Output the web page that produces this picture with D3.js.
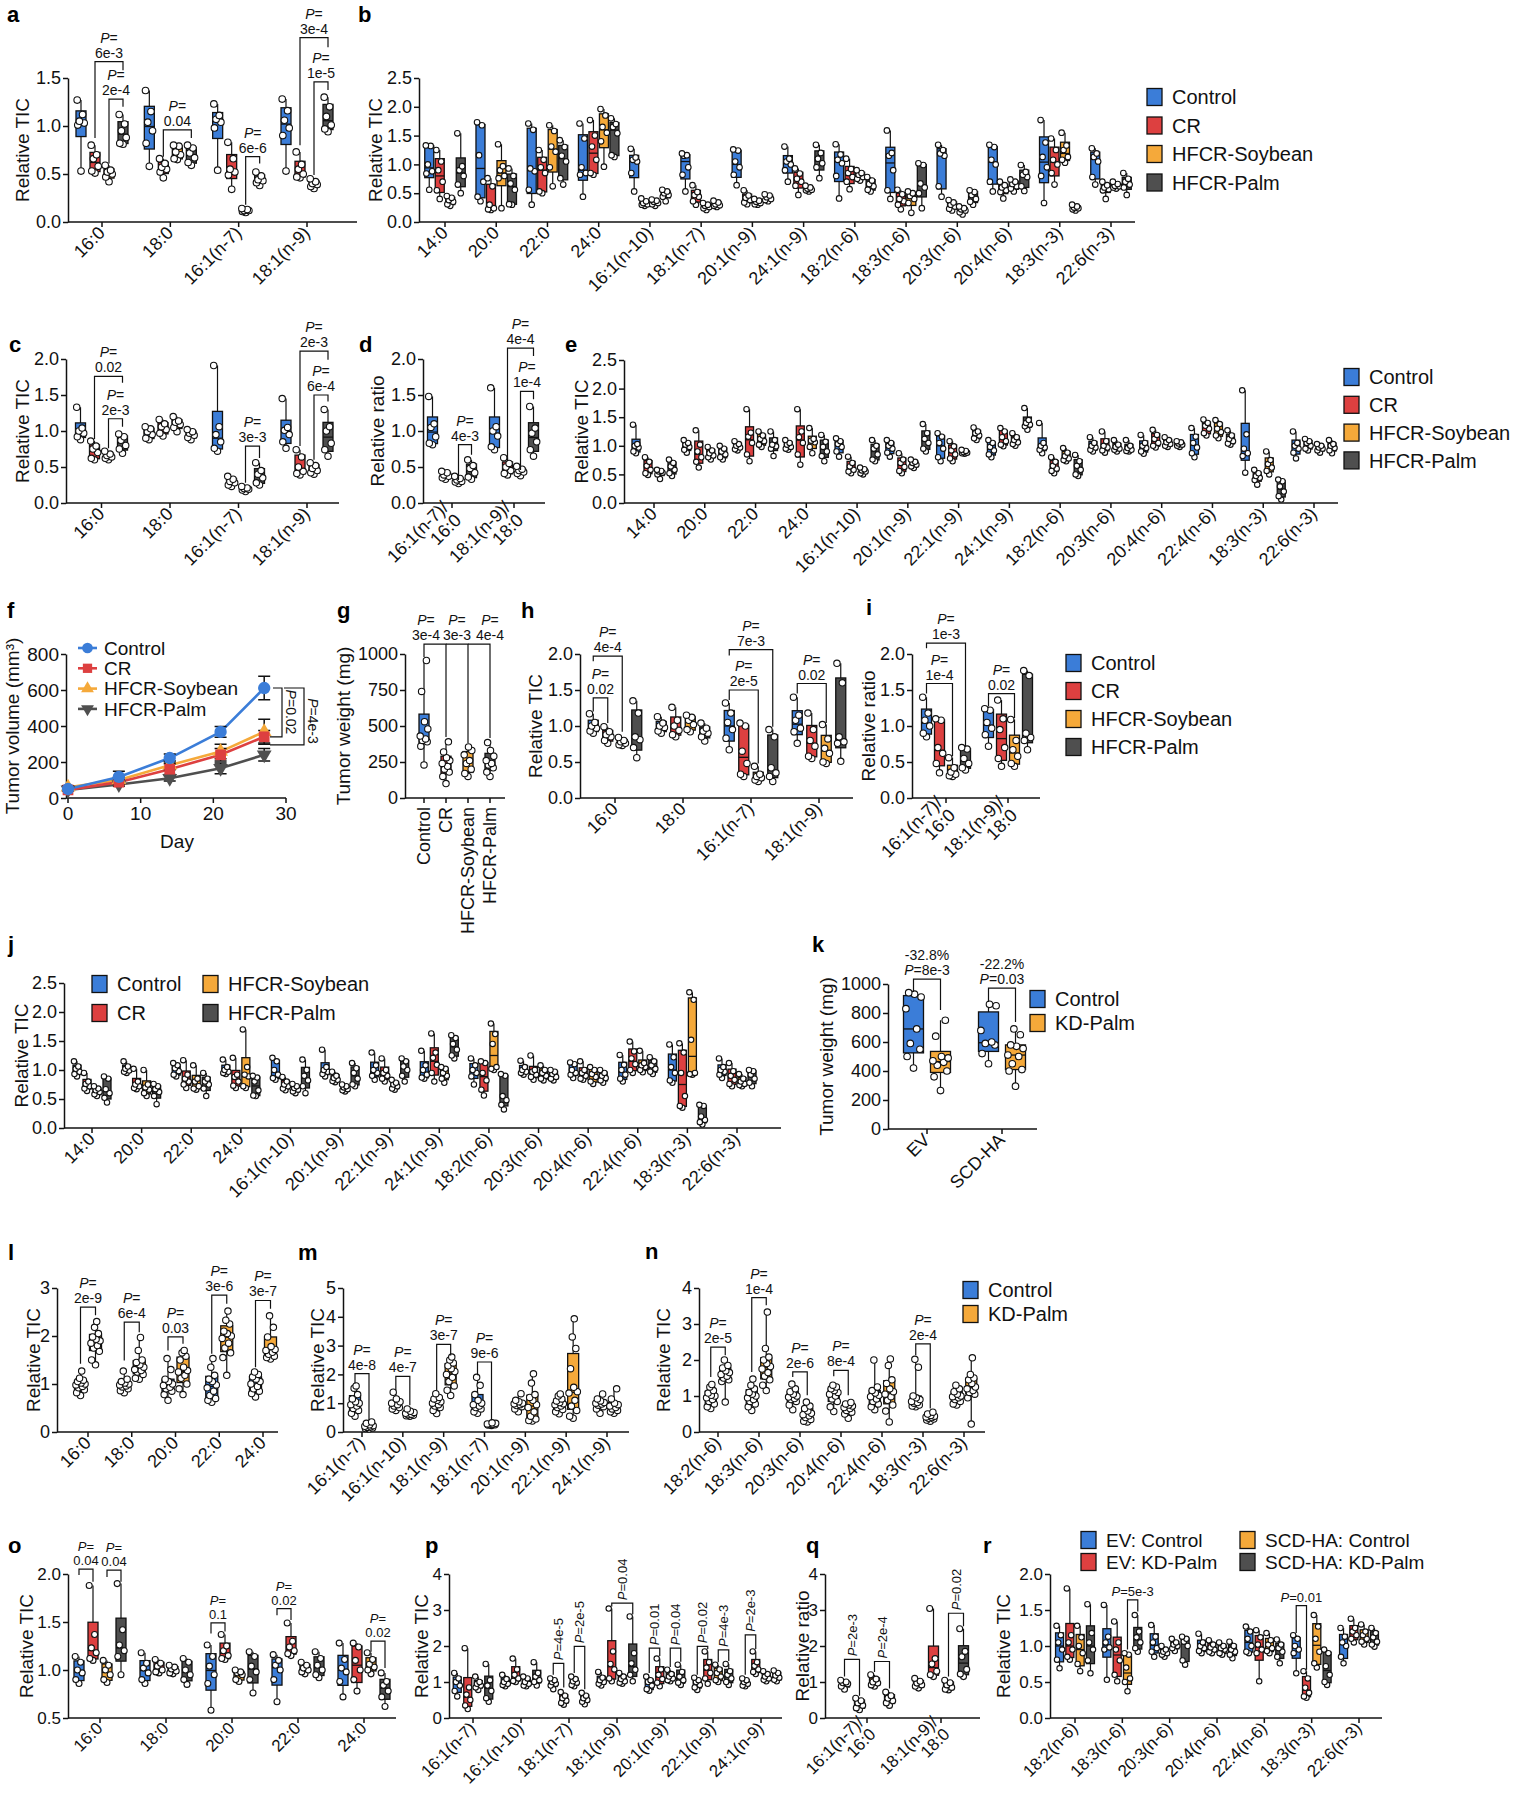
<!DOCTYPE html>
<html><head><meta charset="utf-8">
<script src="https://cdn.jsdelivr.net/npm/d3@7"></script>
<style>body{margin:0;background:#fff;}</style>
</head><body>
<script>
// ---------------- DATA ----------------
const C4 = ["#3b7dd8", "#dd4040", "#f5a93a", "#4f4f4f"];
const C2 = ["#3b7dd8", "#f5a93a"];
const series4Names = ["Control", "CR", "HFCR-Soybean", "HFCR-Palm"];
const series2Names = ["Control", "KD-Palm"];
const seriesRNames = ["EV: Control", "EV: KD-Palm", "SCD-HA: Control", "SCD-HA: KD-Palm"];

// a
const aGroups = ["16:0","18:0","16:1(n-7)","18:1(n-9)"];
const aControl = [[1.27,1.12,1.05,1.03,1.01,0.53],[1.37,1.15,1.04,0.95,0.82,0.58],[1.23,1.11,1.07,1.04,0.98,0.54],[1.28,1.16,1.06,0.98,0.90,0.53]];
const aCR = [[0.80,0.70,0.66,0.58,0.53,0.51],[0.66,0.61,0.57,0.55,0.52,0.46],[0.83,0.66,0.55,0.52,0.49,0.34],[0.73,0.60,0.55,0.50,0.47,0.46]];
const aSoy = [[0.59,0.54,0.52,0.50,0.47,0.42],[0.80,0.79,0.73,0.70,0.66,0.65],[0.14,0.13,0.12,0.12,0.11,0.10],[0.45,0.42,0.40,0.39,0.37,0.35]];
const aPalm = [[1.12,1.02,0.95,0.88,0.82,0.81],[0.80,0.77,0.72,0.67,0.62,0.59],[0.52,0.48,0.44,0.43,0.41,0.38],[1.30,1.20,1.10,1.01,0.97,0.94]];
const aBr = [[0,1,3,1.67,0.875,1.58,"P=","6e-3"],[0,2,3,1.28,0.61,1.20,"P=","2e-4"],[1,1,3,0.96,0.68,0.875,"P=","0.04"],
  [2,2,3,0.68,0.18,0.61,"P=","6e-6"],[3,1,3,1.92,0.80,1.82,"P=","3e-4"],[3,2,3,1.46,0.49,1.375,"P=","1e-5"]];

// b
const bGroups = ["14:0","20:0","22:0","24:0","16:1(n-10)","18:1(n-7)","20:1(n-9)","24:1(n-9)","18:2(n-6)","18:3(n-6)","20:3(n-6)","20:4(n-6)","18:3(n-3)","22:6(n-3)"];
const bControl = [[1.33,1.32,1.00,0.88,0.84,0.56],[1.73,1.68,1.16,0.70,0.44,0.36],[1.71,1.60,0.93,0.88,0.56,0.30],[1.71,1.45,0.95,0.85,0.82,0.44],
  [1.27,1.12,1.08,1.05,0.85,0.53],[1.19,1.16,1.15,0.95,0.82,0.53],[1.26,1.24,1.05,0.95,0.82,0.64],[1.31,1.10,1.05,1.00,0.90,0.70],
  [1.35,1.17,1.08,1.02,0.80,0.41],[1.59,1.20,1.15,0.90,0.55,0.40],[1.34,1.25,1.19,1.15,0.62,0.44],[1.34,1.30,1.08,1.00,0.70,0.53],
  [1.77,1.38,1.13,0.95,0.80,0.33],[1.28,1.19,1.13,1.05,0.78,0.65]];
const bCR = [[1.25,1.05,0.90,0.70,0.55,0.40],[0.76,0.62,0.30,0.24,0.22,0.21],[1.25,1.08,0.95,0.85,0.53,0.50],[1.77,1.50,1.31,1.08,0.85,0.82],
  [0.41,0.36,0.33,0.31,0.30,0.28],[0.64,0.52,0.47,0.44,0.36,0.30],[0.55,0.46,0.42,0.38,0.34,0.31],[0.93,0.84,0.75,0.70,0.63,0.47],
  [1.10,0.92,0.85,0.78,0.70,0.57],[0.56,0.48,0.40,0.36,0.30,0.22],[0.38,0.34,0.30,0.27,0.23,0.20],[0.70,0.64,0.60,0.55,0.52,0.41],
  [1.45,1.25,1.08,1.00,0.85,0.65],[0.70,0.64,0.60,0.57,0.55,0.40]];
const bSoy = [[0.45,0.42,0.38,0.35,0.31,0.28],[1.35,0.97,0.90,0.80,0.76,0.24],[1.68,1.58,1.31,1.22,0.95,0.62],[1.96,1.85,1.65,1.55,1.40,0.96],
  [0.39,0.37,0.35,0.33,0.31,0.28],[0.33,0.30,0.28,0.26,0.24,0.21],[0.40,0.37,0.35,0.33,0.31,0.30],[0.63,0.60,0.58,0.56,0.55,0.53],
  [0.90,0.85,0.82,0.78,0.75,0.72],[0.53,0.50,0.45,0.40,0.33,0.16],[0.27,0.24,0.22,0.20,0.17,0.13],[0.74,0.70,0.66,0.62,0.58,0.53],
  [1.55,1.33,1.25,1.13,1.08,1.03],[0.70,0.66,0.63,0.62,0.60,0.58]];
const bPalm = [[1.54,0.97,0.90,0.80,0.65,0.50],[0.93,0.80,0.67,0.56,0.31,0.30],[1.42,1.30,1.15,1.05,0.76,0.65],[1.80,1.70,1.65,1.54,1.16,1.13],
  [0.56,0.53,0.50,0.47,0.44,0.36],[0.37,0.34,0.31,0.29,0.28,0.26],[0.48,0.46,0.43,0.40,0.38,0.36],[1.34,1.20,1.10,1.02,0.95,0.76],
  [0.78,0.72,0.66,0.62,0.56,0.53],[1.02,0.99,0.67,0.60,0.50,0.24],[0.55,0.52,0.47,0.40,0.35,0.30],[0.99,0.87,0.82,0.78,0.62,0.54],
  [0.30,0.27,0.25,0.24,0.22,0.20],[0.85,0.75,0.70,0.65,0.60,0.47]];

// c
const cGroups = ["16:0","18:0","16:1(n-7)","18:1(n-9)"];
const cControl = [[1.33,1.04,1.00,0.97,0.92,0.88],[1.06,1.03,0.99,0.95,0.90,0.88],[1.91,1.06,0.95,0.85,0.76,0.72],[1.45,1.05,1.01,0.95,0.85,0.76]];
const cCR = [[0.86,0.79,0.75,0.70,0.62,0.60],[1.16,1.10,1.06,1.02,0.97,0.93],[0.37,0.33,0.30,0.28,0.25,0.23],[0.74,0.64,0.50,0.44,0.41,0.39]];
const cSoy = [[0.72,0.68,0.66,0.64,0.62,0.60],[1.20,1.14,1.12,1.09,1.05,0.99],[0.23,0.21,0.20,0.19,0.18,0.16],[0.56,0.52,0.48,0.45,0.42,0.40]];
const cPalm = [[0.96,0.92,0.87,0.80,0.75,0.69],[1.02,0.99,0.97,0.94,0.91,0.88],[0.56,0.45,0.40,0.35,0.28,0.25],[1.30,1.06,1.00,0.83,0.74,0.65]];
const cBr = [[0,1,3,1.76,0.89,1.67,"P=","0.02"],[0,2,3,1.17,0.76,1.06,"P=","2e-3"],[2,2,3,0.79,0.28,0.625,"P=","3e-3"],
  [3,1,3,2.11,0.79,1.99,"P=","2e-3"],[3,2,3,1.50,0.60,1.41,"P=","6e-4"]];

// d
const dGroups = ["16:1(n-7)/\n16:0","18:1(n-9)/\n18:0"];
const dControl = [[1.48,1.10,1.05,0.92,0.83,0.81],[1.60,1.06,1.00,0.93,0.78,0.74]];
const dCR = [[0.44,0.42,0.39,0.37,0.35,0.33],[0.63,0.55,0.50,0.45,0.41,0.39]];
const dSoy = [[0.37,0.34,0.32,0.30,0.29,0.27],[0.51,0.47,0.45,0.43,0.41,0.38]];
const dPalm = [[0.60,0.52,0.48,0.42,0.36,0.33],[1.34,1.04,0.97,0.85,0.74,0.65]];
const dBr = [[0,2,3,0.81,0.32,0.67,"P=","4e-3"],[1,1,3,2.15,0.58,2.04,"P=","4e-4"],[1,2,3,1.55,0.46,1.44,"P=","1e-4"]];

// e
const eGroups = ["14:0","20:0","22:0","24:0","16:1(n-10)","20:1(n-9)","22:1(n-9)","24:1(n-9)","18:2(n-6)","20:3(n-6)","20:4(n-6)","22:4(n-6)","18:3(n-3)","22:6(n-3)"];
const eControl = [[1.37,1.03,1.00,0.97,0.90,0.87],[1.10,1.05,1.02,0.98,0.93,0.88],[1.08,1.03,1.00,0.97,0.94,0.92],[1.10,1.05,1.02,0.98,0.95,0.93],
  [1.13,1.08,1.03,0.98,0.90,0.81],[1.10,1.05,1.00,0.95,0.88,0.81],[1.22,1.16,1.05,0.95,0.80,0.73],[1.10,1.05,0.98,0.92,0.85,0.80],
  [1.40,1.05,1.00,0.97,0.93,0.87],[1.15,1.05,1.00,0.97,0.93,0.90],[1.19,1.05,1.00,0.96,0.90,0.86],[1.31,1.16,1.05,0.97,0.87,0.80],
  [1.97,1.20,0.95,0.87,0.82,0.53],[1.25,1.05,1.00,0.95,0.88,0.78]];
const eCR = [[0.80,0.72,0.65,0.58,0.52,0.49],[1.27,1.02,0.90,0.80,0.72,0.62],[1.64,1.23,1.16,1.05,0.85,0.73],[1.64,1.25,1.15,1.05,0.85,0.67],
  [0.81,0.70,0.64,0.58,0.55,0.52],[0.87,0.76,0.70,0.63,0.56,0.52],[1.08,0.99,0.92,0.85,0.78,0.73],[1.31,1.25,1.15,1.08,1.02,0.99],
  [0.80,0.72,0.65,0.60,0.56,0.52],[1.25,1.08,1.00,0.97,0.92,0.88],[1.28,1.19,1.12,1.05,1.00,0.97],[1.46,1.40,1.35,1.30,1.22,1.18],
  [0.58,0.52,0.47,0.44,0.40,0.32],[1.12,1.08,1.05,1.00,0.95,0.92]];
const eSoy = [[0.58,0.56,0.55,0.53,0.50,0.42],[0.98,0.92,0.87,0.83,0.80,0.76],[1.25,1.18,1.12,1.08,1.02,0.98],[1.31,1.12,1.09,1.06,0.98,0.87],
  [0.62,0.59,0.57,0.55,0.52,0.50],[0.76,0.72,0.70,0.67,0.64,0.61],[0.93,0.91,0.89,0.88,0.87,0.86],[1.22,1.15,1.10,1.06,1.03,1.00],
  [0.96,0.88,0.82,0.78,0.75,0.73],[1.10,1.02,0.98,0.95,0.93,0.90],[1.15,1.10,1.06,1.03,1.00,0.98],[1.45,1.38,1.30,1.24,1.18,1.13],
  [0.90,0.75,0.68,0.62,0.56,0.50],[1.03,1.00,0.97,0.95,0.92,0.88]];
const ePalm = [[0.76,0.70,0.64,0.58,0.52,0.47],[1.00,0.95,0.90,0.85,0.80,0.76],[1.25,1.10,1.02,0.99,0.95,0.82],[1.19,1.07,0.98,0.90,0.82,0.73],
  [1.10,1.00,0.95,0.85,0.76,0.73],[1.38,1.22,1.12,1.05,0.95,0.90],[1.32,1.25,1.22,1.18,1.13,1.10],[1.66,1.45,1.40,1.37,1.34,1.28],
  [0.84,0.73,0.65,0.58,0.50,0.47],[1.10,1.00,0.96,0.93,0.91,0.90],[1.08,1.06,1.04,1.02,1.00,0.98],[1.27,1.18,1.12,1.08,1.04,1.02],
  [0.41,0.38,0.29,0.20,0.12,0.06],[1.10,1.03,1.00,0.96,0.92,0.87]];

// f
const fDays = [0, 7, 14, 21, 27];
const fControl = [50, 117, 222, 367, 611], fControlErr = [12, 32, 22, 30, 65];
const fCR = [45, 88, 160, 240, 340], fCRErr = [8, 15, 30, 35, 35];
const fSoy = [60, 100, 182, 258, 368], fSoyErr = [8, 15, 25, 40, 70];
const fPalm = [45, 75, 110, 165, 240], fPalmErr = [8, 10, 15, 30, 35];

// g
const gLabels = ["Control","CR","HFCR-Soybean","HFCR-Palm"];
const gControl = [955,740,530,480,430,410,400,390,360,230];
const gCR = [390,320,280,260,240,220,200,180,150,100];
const gSoy = [355,330,300,260,240,200,170,150];
const gPalm = [385,330,290,260,240,230,210,180,150];

// h
const hGroups = ["16:0","18:0","16:1(n-7)","18:1(n-9)"];
const hControl = [[1.17,1.05,1.00,0.97,0.93,0.90],[1.13,1.04,1.00,0.98,0.93,0.90],[1.32,1.18,1.05,0.95,0.83,0.67],[1.40,1.15,1.08,0.97,0.92,0.76]];
const hCR = [[0.99,0.92,0.88,0.85,0.80,0.76],[1.26,1.08,1.00,0.94,0.88,0.85],[1.04,1.00,0.65,0.48,0.33,0.30],[1.18,0.95,0.80,0.72,0.58,0.55]];
const hSoy = [[0.84,0.80,0.78,0.76,0.74,0.73],[1.15,1.12,1.08,1.02,0.95,0.92],[0.44,0.33,0.30,0.28,0.25,0.23],[1.02,0.82,0.69,0.62,0.50,0.48]];
const hPalm = [[1.35,1.18,0.85,0.81,0.70,0.56],[1.04,0.97,0.93,0.90,0.85,0.79],[0.95,0.85,0.42,0.35,0.30,0.23],[1.87,1.60,0.85,0.78,0.76,0.51]];
const hBr = [[0,0,2,1.97,1.90,0.92,"P=","4e-4"],[0,0,1,1.39,1.20,1.04,"P=","0.02"],[2,0,3,2.06,1.98,0.99,"P=","7e-3"],
  [2,0,2,1.50,1.36,0.48,"P=","2e-5"],[3,0,2,1.59,1.45,1.04,"P=","0.02"]];

// i
const iGroups = ["16:1(n-7)/\n16:0","18:1(n-9)/\n18:0"];
const iControl = [[1.40,1.18,1.08,1.00,0.90,0.85],[1.24,1.22,1.05,0.97,0.88,0.72]];
const iCR = [[1.10,1.08,0.70,0.62,0.48,0.35],[1.36,1.10,0.95,0.70,0.55,0.44]];
const iSoy = [[0.56,0.42,0.36,0.33,0.31,0.30],[1.09,0.80,0.67,0.58,0.48,0.44]];
const iPalm = [[0.70,0.68,0.55,0.48,0.42,0.39],[1.77,1.70,0.90,0.84,0.80,0.67]];
const iBr = [[0,0,3,2.15,2.08,0.72,"P=","1e-3"],[0,0,2,1.59,1.45,0.58,"P=","1e-4"],[1,0,2,1.45,1.27,1.11,"P=","0.02"]];

// j
const jGroups = ["14:0","20:0","22:0","24:0","16:1(n-10)","20:1(n-9)","22:1(n-9)","24:1(n-9)","18:2(n-6)","20:3(n-6)","20:4(n-6)","22:4(n-6)","18:3(n-3)","22:6(n-3)"];
const jControl = [[1.15,1.06,1.02,0.97,0.93,0.89],[1.15,1.06,1.02,0.99,0.97,0.95],[1.12,1.08,1.03,0.98,0.92,0.89],[1.18,1.05,1.00,0.97,0.95,0.93],
  [1.21,1.15,1.00,0.92,0.86,0.83],[1.35,1.05,1.00,0.97,0.93,0.89],[1.30,1.08,1.00,0.95,0.90,0.83],[1.33,1.08,1.00,0.92,0.87,0.85],
  [1.20,1.08,1.00,0.95,0.89,0.75],[1.16,1.05,1.00,0.97,0.95,0.92],[1.13,1.10,1.00,0.95,0.92,0.86],[1.26,1.09,1.00,0.92,0.85,0.80],
  [1.44,1.22,1.05,0.95,0.82,0.78],[1.20,1.05,1.00,0.97,0.92,0.86]];
const jCR = [[0.95,0.80,0.76,0.72,0.68,0.64],[1.02,0.80,0.75,0.72,0.69,0.67],[1.17,0.92,0.85,0.80,0.75,0.69],[1.21,0.92,0.88,0.80,0.73,0.69],
  [0.88,0.80,0.75,0.72,0.68,0.65],[0.97,0.90,0.86,0.83,0.81,0.79],[1.20,1.00,0.95,0.90,0.85,0.80],[1.63,1.30,1.21,1.09,0.95,0.80],
  [1.15,1.12,0.95,0.82,0.66,0.56],[1.25,1.00,0.97,0.92,0.88,0.83],[1.15,1.00,0.95,0.90,0.85,0.83],[1.49,1.32,1.20,1.10,1.00,0.95],
  [1.46,1.30,0.95,0.55,0.38,0.35],[1.12,0.98,0.90,0.83,0.76,0.72]];
const jSoy = [[0.72,0.68,0.65,0.62,0.58,0.55],[1.00,0.75,0.70,0.66,0.60,0.55],[1.08,0.85,0.80,0.72,0.68,0.66],[1.70,1.05,0.92,0.89,0.72,0.69],
  [0.76,0.72,0.69,0.66,0.63,0.60],[0.75,0.72,0.70,0.67,0.65,0.63],[0.83,0.78,0.75,0.72,0.68,0.66],[1.05,1.02,0.95,0.90,0.85,0.78],
  [1.80,1.62,1.45,1.05,1.02,1.00],[1.08,1.00,0.95,0.90,0.85,0.82],[1.05,1.00,0.93,0.88,0.80,0.76],[1.33,1.12,1.08,1.05,1.00,0.96],
  [2.34,2.21,1.52,0.95,0.93,0.92],[0.93,0.85,0.80,0.76,0.74,0.72]];
const jPalm = [[0.89,0.85,0.67,0.60,0.52,0.44],[0.76,0.72,0.67,0.62,0.55,0.41],[0.95,0.85,0.80,0.75,0.68,0.55],[0.90,0.87,0.80,0.65,0.56,0.55],
  [1.18,1.00,0.90,0.82,0.72,0.60],[1.12,1.03,0.95,0.85,0.75,0.72],[1.20,1.15,1.06,1.00,0.90,0.80],[1.60,1.55,1.45,1.35,1.25,1.20],
  [0.93,0.90,0.55,0.48,0.40,0.32],[1.00,0.97,0.93,0.88,0.85,0.82],[1.00,0.95,0.90,0.86,0.82,0.78],[1.22,1.15,1.08,1.02,0.97,0.93],
  [0.40,0.38,0.20,0.14,0.10,0.06],[1.00,0.98,0.92,0.85,0.78,0.72]];

// k
const kGroups = ["EV","SCD-HA"];
const kControl = [[940,930,910,830,690,590,550,500,420],[860,850,680,600,590,580,520,450]];
const kKD = [[750,640,500,490,470,460,440,400,360,265],[690,650,580,570,555,510,500,450,410,400,295]];
const kBr = [[0,0,1,1034,945,821,"-32.8%","P=8e-3"],[1,0,1,972,876,738,"-22.2%","P=0.03"]];

// l
const lGroups = ["16:0","18:0","20:0","22:0","24:0"];
const lControl = [[1.27,1.12,1.08,1.05,1.02,1.00,0.98,0.95,0.92,0.88,0.82,0.76],[1.27,1.10,1.05,1.02,1.00,0.98,0.96,0.94,0.90,0.86,0.82],
  [1.53,1.30,1.10,1.05,1.00,0.97,0.93,0.90,0.85,0.78,0.66],[1.53,1.35,1.18,1.10,1.05,0.98,0.92,0.85,0.76,0.70,0.66,0.62],
  [1.25,1.20,1.15,1.10,1.05,1.00,0.95,0.90,0.85,0.80,0.73]];
const lKD = [[2.30,2.18,2.05,1.98,1.93,1.90,1.85,1.80,1.75,1.68,1.50,1.40],[1.97,1.70,1.50,1.45,1.40,1.35,1.30,1.28,1.25,1.20,1.12,1.10],
  [1.70,1.65,1.58,1.50,1.35,1.28,1.25,1.18,1.12,1.00,0.90,0.78],[2.52,2.33,2.25,2.10,2.05,2.00,1.95,1.85,1.75,1.65,1.55,1.18],
  [2.42,2.18,1.98,1.78,1.72,1.70,1.66,1.62,1.58,1.55,1.52]];
const lBr = [[0,0,1,2.60,1.42,2.43,"P=","2e-9"],[1,0,1,2.29,1.49,2.08,"P=","6e-4"],[2,0,1,1.98,1.70,1.84,"P=","0.03"],
  [3,0,1,2.85,1.63,2.67,"P=","3e-6"],[4,0,1,2.74,1.35,2.57,"P=","3e-7"]];

// m
const mGroups = ["16:1(n-7)","16:1(n-10)","18:1(n-9)","18:1(n-7)","20:1(n-9)","22:1(n-9)","24:1(n-9)"];
const mControl = [[1.60,1.52,1.30,1.15,1.05,1.00,0.95,0.90,0.82,0.75,0.65,0.55],[1.38,1.15,1.05,1.00,0.95,0.90,0.85,0.80,0.75],
  [1.33,1.20,1.15,1.10,1.05,1.00,0.95,0.90,0.85,0.75,0.64],[1.90,1.62,1.30,1.10,1.00,0.95,0.90,0.85,0.80,0.70,0.65],
  [1.33,1.10,1.05,1.00,0.98,0.95,0.92,0.88,0.80,0.70],[1.32,1.25,1.15,1.08,1.02,0.98,0.95,0.90,0.85,0.78,0.70,0.63],
  [1.32,1.15,1.08,1.02,1.00,0.97,0.93,0.88,0.80,0.65]];
const mKD = [[0.35,0.30,0.25,0.22,0.20,0.18,0.16,0.14,0.12,0.10],[0.80,0.72,0.68,0.65,0.62,0.60,0.58,0.56,0.55],
  [2.60,2.50,2.40,2.30,2.20,2.10,2.00,1.90,1.75,1.60,1.45,1.27],[0.32,0.30,0.28,0.27,0.26,0.25,0.24,0.23],
  [2.02,1.70,1.30,1.20,1.10,0.95,0.85,0.70,0.55,0.45,0.40,0.38],[3.93,3.30,2.90,2.20,1.55,1.40,1.35,1.10,0.90,0.75,0.55,0.48],
  [1.50,1.15,1.00,0.95,0.90,0.85,0.80,0.75,0.70,0.65]];
const mBr = [[0,0,1,2.03,1.68,0.41,"P=","4e-8"],[1,0,1,1.93,1.45,0.93,"P=","4e-7"],[2,0,1,3.04,1.45,2.66,"P=","3e-7"],[3,0,1,2.43,1.97,0.41,"P=","9e-6"]];

// n
const nGroups = ["18:2(n-6)","18:3(n-6)","20:3(n-6)","20:4(n-6)","22:4(n-6)","18:3(n-3)","22:6(n-3)"];
const nControl = [[1.32,1.25,1.15,1.08,1.02,1.00,0.95,0.90,0.85,0.78,0.70,0.65],[1.47,1.30,1.20,1.10,1.05,1.00,0.95,0.90,0.85,0.78,0.70,0.60],
  [1.33,1.20,1.12,1.05,1.00,0.97,0.93,0.90,0.85,0.75,0.62],[1.30,1.25,1.20,1.15,1.10,1.05,1.00,0.92,0.85,0.70,0.57],
  [2.00,1.25,1.15,1.08,1.02,0.98,0.92,0.85,0.78,0.70,0.62],[2.02,1.80,1.00,0.95,0.90,0.85,0.82,0.80,0.75,0.72,0.70],
  [1.30,1.20,1.12,1.05,1.00,0.98,0.95,0.90,0.85,0.78,0.75]];
const nKD = [[2.00,1.85,1.78,1.70,1.65,1.60,1.55,1.50,1.45,1.40,0.83],[3.33,2.32,2.08,2.00,1.90,1.82,1.75,1.65,1.55,1.45,1.30,1.15],
  [0.83,0.72,0.65,0.58,0.52,0.48,0.45,0.40,0.35,0.30,0.28],[0.82,0.78,0.75,0.72,0.68,0.65,0.60,0.55,0.50,0.38],
  [2.03,1.85,1.45,1.35,1.20,1.12,1.05,0.98,0.88,0.75,0.58,0.28],[0.55,0.50,0.46,0.44,0.42,0.40,0.38,0.36,0.33,0.30],
  [2.06,1.60,1.50,1.45,1.35,1.25,1.20,1.15,1.10,1.05,0.95,0.22]];
const nBr = [[0,0,1,2.36,1.53,2.13,"P=","2e-5"],[1,0,1,3.73,1.67,3.52,"P=","1e-4"],[2,0,1,1.67,1.53,1.02,"P=","2e-6"],
  [3,0,1,1.71,1.55,1.02,"P=","8e-4"],[5,0,1,2.45,2.13,0.65,"P=","2e-4"]];

// o
const oGroups = ["16:0","18:0","20:0","22:0","24:0"];
const oEVCtrl = [[1.14,1.08,1.00,0.97,0.90,0.86],[1.18,1.07,1.02,0.97,0.90,0.86],[1.26,1.14,1.04,0.95,0.86,0.58],[1.16,1.10,1.05,1.00,0.90,0.67],[1.28,1.11,1.02,0.98,0.88,0.72]];
const oEVKD = [[1.88,1.37,1.23,1.18,1.12,1.10],[1.11,1.07,1.04,1.00,0.98,0.97],[1.37,1.25,1.20,1.15,1.12,1.11],[1.49,1.30,1.24,1.20,1.17,1.15],[1.28,1.24,1.10,1.00,0.90,0.78]];
const oSCDCtrl = [[1.10,1.05,1.00,0.95,0.90,0.87],[1.05,1.03,1.01,0.99,0.97,0.96],[1.00,0.98,0.97,0.95,0.90,0.88],[1.08,1.05,1.02,1.00,0.98,0.96],[1.18,1.11,1.06,1.03,1.00,0.96]];
const oSCDKD = [[1.90,1.42,1.26,1.20,1.14,0.95],[1.12,1.08,1.00,0.95,0.90,0.85],[1.19,1.14,1.04,0.98,0.90,0.76],[1.19,1.12,1.05,1.00,0.95,0.92],[0.97,0.88,0.84,0.78,0.72,0.62]];
const oBr = [[0,0,1,2.05,1.99,1.92,"P=","0.04"],[0,2,3,2.04,1.97,1.92,"P=","0.04"],[2,0,1,1.49,1.38,1.40,"P=","0.1"],
  [3,0,1,1.64,1.57,1.52,"P=","0.02"],[4,2,3,1.30,1.19,1.02,"P=","0.02"]];

// p
const pGroups = ["16:1(n-7)","16:1(n-10)","18:1(n-7)","18:1(n-9)","20:1(n-9)","22:1(n-9)","24:1(n-9)"];
const pEVCtrl = [[1.25,1.10,1.00,0.90,0.75,0.60],[1.20,1.08,1.00,0.95,0.92,0.88],[1.10,1.05,1.00,0.95,0.90,0.80],[1.28,1.12,1.05,1.00,0.95,0.90],[1.15,1.05,1.00,0.90,0.80,0.76],[1.12,1.05,1.00,0.92,0.85,0.78],[1.10,1.05,1.00,0.95,0.90,0.88]];
const pEVKD = [[1.94,0.85,0.65,0.50,0.35,0.25],[1.65,1.35,1.20,1.10,1.03,1.00],[0.72,0.62,0.55,0.48,0.42,0.37],[3.04,1.85,1.50,1.35,1.10,1.02],[1.65,1.35,1.20,1.08,0.98,0.88],[1.85,1.55,1.40,1.25,1.10,0.95],[1.85,1.55,1.45,1.35,1.28,1.22]];
const pSCDCtrl = [[1.15,1.00,0.95,0.90,0.85,0.78],[1.15,1.10,1.00,0.95,0.90,0.88],[1.15,1.08,1.02,0.98,0.92,0.88],[1.25,1.15,1.08,1.02,0.98,0.95],[1.34,1.22,1.15,1.10,1.05,1.02],[1.48,1.35,1.25,1.15,1.05,1.00],[1.30,1.22,1.15,1.10,1.06,1.02]];
const pSCDKD = [[1.50,1.05,0.90,0.75,0.55,0.45],[1.55,1.25,1.15,1.05,1.00,0.90],[0.70,0.62,0.55,0.50,0.45,0.38],[2.82,1.80,1.52,1.34,1.20,1.02],[1.48,1.28,1.15,1.05,0.98,0.92],[1.50,1.30,1.20,1.10,1.00,0.92],[1.32,1.25,1.18,1.12,1.06,1.02]];
const pBr = [[2,0,1,1.52,1.20,0.85,"P=4e-5"],[2,2,3,1.99,1.25,0.80,"P=2e-5"],[3,1,3,3.19,3.10,2.88,"P=0.04"],
  [4,0,1,1.94,1.25,1.72,"P=0.01"],[4,2,3,1.94,1.42,1.56,"P=0.04"],[5,0,1,1.99,1.20,1.92,"P=0.02"],
  [5,2,3,1.89,1.55,1.58,"P=4e-3"],[6,0,1,2.31,1.20,1.92,"P=2e-3"]];

// q
const qGroups = ["16:1(n-7)/\n16:0","18:1(n-9)/\n18:0"];
const qEVCtrl = [[1.05,1.00,0.98,0.95,0.88,0.80],[1.10,1.02,0.97,0.92,0.88,0.83]];
const qEVKD = [[0.55,0.48,0.42,0.35,0.28,0.23],[3.04,1.65,1.50,1.30,1.20,1.15]];
const qSCDCtrl = [[1.20,1.08,1.00,0.97,0.92,0.88],[1.05,0.98,0.92,0.85,0.80,0.78]];
const qSCDKD = [[0.72,0.62,0.55,0.48,0.42,0.35],[2.48,1.85,1.70,1.35,1.22,1.15]];
const qBr = [[0,0,1,1.63,1.15,0.62,"P=2e-3"],[0,2,3,1.57,1.28,0.82,"P=2e-4"],[1,2,3,2.91,1.15,2.55,"P=0.02"]];

// r
const rGroups = ["18:2(n-6)","18:3(n-6)","20:3(n-6)","20:4(n-6)","22:4(n-6)","18:3(n-3)","22:6(n-3)"];
const rEVCtrl = [[1.28,1.15,1.05,0.95,0.81,0.69],[1.57,1.13,1.05,0.98,0.95,0.53],[1.29,1.13,1.05,0.97,0.92,0.85],[1.17,1.05,1.00,0.97,0.93,0.90],[1.27,1.20,1.10,1.00,0.92,0.90],[1.15,1.10,1.00,0.95,0.90,0.62],[1.25,1.13,1.05,1.00,0.85,0.76]];
const rEVKD = [[1.80,1.15,1.05,0.95,0.85,0.81],[1.34,1.05,0.95,0.80,0.60,0.51],[1.00,0.95,0.92,0.90,0.88,0.85],[1.08,1.02,0.98,0.95,0.92,0.90],[1.22,1.12,1.02,0.95,0.90,0.51],[0.65,0.55,0.42,0.35,0.30,0.28],[1.38,1.25,1.20,1.15,1.10,1.05]];
const rSCDCtrl = [[1.28,1.12,1.00,0.90,0.75,0.65],[0.90,0.88,0.70,0.55,0.50,0.37],[1.10,1.05,1.02,1.00,0.97,0.93],[1.05,1.00,0.97,0.95,0.90,0.88],[1.18,1.08,1.02,0.97,0.93,0.90],[1.43,1.27,1.10,0.92,0.76,0.70],[1.30,1.20,1.15,1.10,1.06,1.02]];
const rSCDKD = [[1.58,1.18,1.05,0.95,0.80,0.62],[1.43,1.20,1.12,1.05,0.97,0.92],[1.13,1.10,1.06,1.00,0.80,0.74],[1.06,1.00,0.95,0.92,0.88,0.83],[1.09,1.02,0.97,0.92,0.85,0.76],[0.95,0.90,0.72,0.60,0.50,0.46],[1.25,1.18,1.12,1.06,1.02,0.99]];
const rBr = [[1,2,3,1.64,0.95,1.48,"P=5e-3"],[5,0,1,1.56,1.18,0.67,"P=0.01"]];

// ---------------- DRAWING ----------------
const FONT = '"Liberation Sans", Arial, Helvetica, sans-serif';
const INK = "#111";
const svg = d3.select("body").append("svg").attr("width", 1513).attr("height", 1800)
  .attr("font-family", FONT).attr("fill", INK);
const f1 = d3.format(".1f"), fd = d3.format("d");

function quant(s, p) {
  const n = s.length;
  const pos = (n + 1) * p;
  if (pos <= 1) return s[0];
  if (pos >= n) return s[n - 1];
  const lo = Math.floor(pos), fr = pos - lo;
  return s[lo - 1] + fr * (s[lo] - s[lo - 1]);
}
function rich(sel, str) {
  if (str.startsWith("P=")) {
    sel.append("tspan").attr("font-style", "italic").text("P");
    sel.append("tspan").text(str.slice(1));
  } else sel.append("tspan").text(str);
}
function plabel(t, x, y) {
  svg.append("text").attr("x", x).attr("y", y).attr("font-size", 22).attr("font-weight", "bold").attr("fill", "#000").text(t);
}
function ytitle(t, x, yc, fs) {
  svg.append("text").attr("transform", `translate(${x},${yc}) rotate(-90)`).attr("text-anchor", "middle")
    .attr("dy", "0.35em").attr("font-size", fs).text(t);
}
function legendItem(x, yc, col, label, fs) {
  svg.append("rect").attr("x", x).attr("y", yc - 8.5).attr("width", 15).attr("height", 17)
    .attr("fill", col).attr("stroke", INK).attr("stroke-width", 1.3);
  svg.append("text").attr("x", x + 25).attr("y", yc).attr("dy", "0.36em").attr("font-size", fs).text(label);
}
function styleAxis(sel, fs) {
  sel.attr("font-size", fs).attr("font-family", FONT).attr("color", INK);
  sel.select(".domain").attr("stroke-width", 1.5);
  sel.selectAll(".tick line").attr("stroke-width", 1.5);
}

const jit = [0, -0.32, 0.32, -0.16, 0.16, -0.38, 0.38, 0.05, -0.24, 0.24, -0.08, 0.1];

function boxPanel(cfg) {
  const fs = cfg.fs || 18;
  const pfs = cfg.pfs || 14;
  const g = svg.append("g");
  const y = d3.scaleLinear().domain(cfg.yDomain).range([cfg.yB, cfg.yT]);
  const x = d3.scalePoint().domain(cfg.groups).range([cfg.gF, cfg.gL]);
  const nS = cfg.series.length;
  const cx = (gi, si) => x(cfg.groups[gi]) + (si - (nS - 1) / 2) * (cfg.step || 0);

  // axes
  const ya = g.append("g").attr("transform", `translate(${cfg.x0},0)`)
    .call(d3.axisLeft(y).tickValues(cfg.yTicks).tickFormat(cfg.fmt).tickSize(5).tickPadding(2).tickSizeOuter(0));
  styleAxis(ya, cfg.yfs || fs);
  g.append("line").attr("x1", cfg.x0).attr("x2", cfg.x1).attr("y1", cfg.yB).attr("y2", cfg.yB)
    .attr("stroke", INK).attr("stroke-width", 1.5);
  const k = fs / 18;
  cfg.groups.forEach(gr => {
    const xx = x(gr);
    g.append("line").attr("x1", xx).attr("x2", xx).attr("y1", cfg.yB).attr("y2", cfg.yB + 5)
      .attr("stroke", INK).attr("stroke-width", 1.5);
    const lines = gr.split("\n");
    let t;
    if (cfg.rot === -90) {
      t = g.append("text").attr("font-size", fs).attr("text-anchor", "end")
        .attr("transform", `translate(${xx + 6 * k},${cfg.yB + 9}) rotate(-90)`);
    } else {
      const sh = (lines.length - 1) * 0.5 * 1.0 * fs * 0.707;
      t = g.append("text").attr("font-size", fs).attr("text-anchor", "end")
        .attr("transform", `translate(${xx + 4 * k - sh},${cfg.yB + 12 * k - sh}) rotate(-45)`);
    }
    lines.forEach((ln, li) => t.append("tspan").attr("x", 0).attr("dy", li ? "1.0em" : null).text(ln));
  });
  if (cfg.title) ytitle(cfg.title, cfg.tx, (cfg.yB + cfg.yT) / 2, cfg.tfs || 19);

  // boxes
  cfg.series.forEach((ser, si) => {
    ser.forEach((vals, gi) => {
      const s = vals.slice().sort(d3.ascending);
      const n = s.length;
      const q1 = quant(s, 0.25), md = quant(s, 0.5), q3 = quant(s, 0.75);
      const c = cx(gi, si);
      const col = cfg.colorByGroup ? cfg.colors[gi] : cfg.colors[si];
      const bw = cfg.bw;
      g.append("line").attr("x1", c).attr("x2", c).attr("y1", y(s[0])).attr("y2", y(s[n - 1]))
        .attr("stroke", INK).attr("stroke-width", 1.2);
      g.append("rect").attr("x", c - bw / 2).attr("y", y(q3)).attr("width", bw)
        .attr("height", Math.max(0.6, y(q1) - y(q3))).attr("fill", col).attr("stroke", INK).attr("stroke-width", 1.3);
      g.append("line").attr("x1", c - bw / 2).attr("x2", c + bw / 2).attr("y1", y(md)).attr("y2", y(md))
        .attr("stroke", INK).attr("stroke-width", 1.3);
      s.forEach((v, i) => {
        g.append("circle").attr("cx", c + jit[i % jit.length] * bw * (cfg.jw || 1)).attr("cy", y(v))
          .attr("r", cfg.r || 3).attr("fill", "#fff").attr("stroke", INK).attr("stroke-width", 1.1);
      });
    });
  });

  // brackets
  (cfg.brackets || []).forEach(b => {
    const [gi, s1, s2, h, l1, l2, ...txt] = b;
    const xa = cx(gi, s1), xb = cx(gi, s2);
    g.append("path").attr("d", `M${xa},${y(l1)}V${y(h)}H${xb}V${y(l2)}`)
      .attr("fill", "none").attr("stroke", INK).attr("stroke-width", 1.2);
    const mx = (xa + xb) / 2;
    if (cfg.vLabels) {
      const t = g.append("text").attr("font-size", pfs).attr("text-anchor", "start")
        .attr("transform", `translate(${mx + pfs * 0.36},${y(h) - 3}) rotate(-90)`);
      rich(t, txt[0]);
    } else {
      txt.forEach((ln, li) => {
        const t = g.append("text").attr("font-size", pfs).attr("text-anchor", "middle").attr("x", mx)
          .attr("y", y(h) - 4 - (txt.length - 1 - li) * (pfs + 1));
        rich(t, ln);
      });
    }
  });
  return { x, y, cx, g };
}

// ---- Row 1 ----
plabel("a", 7, 22);
boxPanel({ groups: aGroups, series: [aControl, aCR, aSoy, aPalm], colors: C4, x0: 68, x1: 357, gF: 102, gL: 307, step: 14, bw: 10,
  yDomain: [0, 1.5], yB: 222, yT: 78, yTicks: [0, 0.5, 1, 1.5], fmt: f1, r: 3.3, brackets: aBr, title: "Relative TIC", tx: 22 });
plabel("b", 358, 22);
boxPanel({ groups: bGroups, series: [bControl, bCR, bSoy, bPalm], colors: C4, x0: 419, x1: 1135, gF: 445, gL: 1111, step: 10.5, bw: 9,
  yDomain: [0, 2.5], yB: 222, yT: 78, yTicks: [0, 0.5, 1, 1.5, 2, 2.5], fmt: f1, r: 2.8, title: "Relative TIC", tx: 375 });
series4Names.forEach((nm, i) => legendItem(1147, 97 + i * 28.5, C4[i], nm, 20));

// ---- Row 2 ----
plabel("c", 9, 352);
boxPanel({ groups: cGroups, series: [cControl, cCR, cSoy, cPalm], colors: C4, x0: 66, x1: 339, gF: 101.5, gL: 307, step: 14, bw: 10,
  yDomain: [0, 2], yB: 503, yT: 359, yTicks: [0, 0.5, 1, 1.5, 2], fmt: f1, r: 3.2, brackets: cBr, title: "Relative TIC", tx: 22 });
plabel("d", 359, 352);
boxPanel({ groups: dGroups, series: [dControl, dCR, dSoy, dPalm], colors: C4, x0: 423, x1: 545, gF: 452, gL: 514, step: 13, bw: 10,
  yDomain: [0, 2], yB: 503, yT: 359, yTicks: [0, 0.5, 1, 1.5, 2], fmt: f1, r: 3.2, brackets: dBr, title: "Relative ratio", tx: 377 });
plabel("e", 565, 352);
boxPanel({ groups: eGroups, series: [eControl, eCR, eSoy, ePalm], colors: C4, x0: 624, x1: 1338, gF: 654, gL: 1314, step: 12, bw: 8,
  yDomain: [0, 2.5], yB: 503, yT: 360, yTicks: [0, 0.5, 1, 1.5, 2, 2.5], fmt: f1, r: 2.7, title: "Relative TIC", tx: 581 });
series4Names.forEach((nm, i) => legendItem(1344, 377 + i * 27.8, C4[i], nm, 20));

// ---- Row 3: f ----
plabel("f", 7, 618);
(function () {
  const x = d3.scaleLinear().domain([0, 30]).range([68, 286]);
  const y = d3.scaleLinear().domain([0, 800]).range([798, 654]);
  const g = svg.append("g");
  const ya = g.append("g").attr("transform", "translate(66,0)")
    .call(d3.axisLeft(y).tickValues([0, 200, 400, 600, 800]).tickFormat(fd).tickSize(5).tickPadding(2).tickSizeOuter(0));
  styleAxis(ya, 19);
  g.append("line").attr("x1", 66).attr("x2", 286).attr("y1", 798).attr("y2", 798).attr("stroke", INK).attr("stroke-width", 1.5);
  [0, 10, 20, 30].forEach(v => {
    g.append("line").attr("x1", x(v)).attr("x2", x(v)).attr("y1", 798).attr("y2", 803).attr("stroke", INK).attr("stroke-width", 1.5);
    g.append("text").attr("x", x(v)).attr("y", 820).attr("text-anchor", "middle").attr("font-size", 19).text(v);
  });
  g.append("text").attr("x", 177).attr("y", 848).attr("text-anchor", "middle").attr("font-size", 19).text("Day");
  ytitle("Tumor volume (mm³)", 12, 726, 19);
  const ser = [
    { v: fPalm, e: fPalmErr, c: C4[3], t: d3.symbolTriangle, rot: 180, sz: 95, name: series4Names[3] },
    { v: fSoy, e: fSoyErr, c: C4[2], t: d3.symbolTriangle, rot: 0, sz: 95, name: series4Names[2] },
    { v: fCR, e: fCRErr, c: C4[1], t: d3.symbolSquare, rot: 0, sz: 115, name: series4Names[1] },
    { v: fControl, e: fControlErr, c: C4[0], t: d3.symbolCircle, rot: 0, sz: 120, name: series4Names[0] }];
  const line = d3.line().x((d, i) => x(fDays[i])).y(d => y(d));
  ser.forEach(s => g.append("path").attr("d", line(s.v)).attr("fill", "none").attr("stroke", s.c).attr("stroke-width", 2.6));
  ser.forEach(s => s.v.forEach((v, i) => {
    const xx = x(fDays[i]);
    g.append("path").attr("d", `M${xx},${y(v - s.e[i])}V${y(v + s.e[i])}M${xx - 6},${y(v + s.e[i])}H${xx + 6}M${xx - 6},${y(v - s.e[i])}H${xx + 6}`)
      .attr("stroke", INK).attr("stroke-width", 1.5).attr("fill", "none");
  }));
  ser.forEach(s => s.v.forEach((v, i) => {
    g.append("path").attr("d", d3.symbol().type(s.t).size(s.sz)())
      .attr("transform", `translate(${x(fDays[i])},${y(v)}) rotate(${s.rot})`).attr("fill", s.c);
  }));
  // brackets
  g.append("path").attr("d", `M273,${y(fControl[4])}H282V${y(fCR[4])}H270`).attr("fill", "none").attr("stroke", INK).attr("stroke-width", 1.2);
  g.append("path").attr("d", `M284,${y(fControl[4])}H304V${y(fPalm[4]) - 10}H270`).attr("fill", "none").attr("stroke", INK).attr("stroke-width", 1.2);
  let t = g.append("text").attr("font-size", 14).attr("text-anchor", "middle").attr("transform", "translate(286,712) rotate(90)");
  rich(t, "P=0.02");
  t = g.append("text").attr("font-size", 14).attr("text-anchor", "middle").attr("transform", "translate(308,721) rotate(90)");
  rich(t, "P=4e-3");
  // legend
  [3, 2, 1, 0].forEach((si, i) => {
    const s = ser[si], yy = 648 + i * 20.3;
    g.append("line").attr("x1", 78).attr("x2", 97).attr("y1", yy).attr("y2", yy).attr("stroke", s.c).attr("stroke-width", 2.6);
    g.append("path").attr("d", d3.symbol().type(s.t).size(s.sz * 0.75)()).attr("transform", `translate(87.5,${yy}) rotate(${s.rot})`).attr("fill", s.c);
    g.append("text").attr("x", 104).attr("y", yy).attr("dy", "0.36em").attr("font-size", 19).text(s.name);
  });
})();

// g
plabel("g", 337, 618);
(function () {
  const P = boxPanel({ groups: gLabels, series: [[gControl, gCR, gSoy, gPalm]], colorByGroup: true, colors: C4, x0: 405, x1: 505, gF: 424, gL: 490, bw: 10,
    yDomain: [0, 1000], yB: 798, yT: 654, yTicks: [0, 250, 500, 750, 1000], fmt: fd, r: 3.2, rot: -90, title: "Tumor weight (mg)", tx: 343 });
  const { y, cx, g } = P;
  const H = 1069;
  const segs = [[0, 1, 979, 424, "3e-4", cx(0, 0) + 2], [1, 2, H, 382, "3e-3", (cx(1, 0) + cx(2, 0)) / 2], [2, 3, H, 417, "4e-4", cx(3, 0)]];
  segs.forEach(([a, b, la, lb, txt, lx]) => {
    g.append("path").attr("d", `M${cx(a, 0)},${y(la)}V${y(H)}H${cx(b, 0)}V${y(lb)}`).attr("fill", "none").attr("stroke", INK).attr("stroke-width", 1.2);
    const t = g.append("text").attr("x", lx).attr("y", y(H) - 19).attr("text-anchor", "middle").attr("font-size", 14);
    rich(t, "P=");
    g.append("text").attr("x", lx).attr("y", y(H) - 4).attr("text-anchor", "middle").attr("font-size", 14).text(txt);
  });
})();

// h, i
plabel("h", 521, 618);
boxPanel({ groups: hGroups, series: [hControl, hCR, hSoy, hPalm], colors: C4, x0: 580, x1: 853, gF: 615, gL: 819, step: 14.5, bw: 10,
  yDomain: [0, 2], yB: 798, yT: 654, yTicks: [0, 0.5, 1, 1.5, 2], fmt: f1, r: 3.2, brackets: hBr, title: "Relative TIC", tx: 535 });
plabel("i", 866, 615);
boxPanel({ groups: iGroups, series: [iControl, iCR, iSoy, iPalm], colors: C4, x0: 912, x1: 1040, gF: 946, gL: 1008, step: 13, bw: 10,
  yDomain: [0, 2], yB: 798, yT: 654, yTicks: [0, 0.5, 1, 1.5, 2], fmt: f1, r: 3.2, brackets: iBr, title: "Relative ratio", tx: 868 });
series4Names.forEach((nm, i) => legendItem(1066, 663 + i * 28, C4[i], nm, 20));

// ---- Row 4 ----
plabel("j", 8, 952);
boxPanel({ groups: jGroups, series: [jControl, jCR, jSoy, jPalm], colors: C4, x0: 64, x1: 781, gF: 92, gL: 737, step: 10, bw: 8,
  yDomain: [0, 2.5], yB: 1128, yT: 983, yTicks: [0, 0.5, 1, 1.5, 2, 2.5], fmt: f1, r: 2.7, title: "Relative TIC", tx: 21 });
legendItem(92, 984, C4[0], "Control", 20);
legendItem(92, 1013, C4[1], "CR", 20);
legendItem(203, 984, C4[2], "HFCR-Soybean", 20);
legendItem(203, 1013, C4[3], "HFCR-Palm", 20);

plabel("k", 812, 952);
boxPanel({ groups: kGroups, series: [kControl, kKD], colors: C2, x0: 888, x1: 1037, gF: 927, gL: 1002, step: 27, bw: 20,
  yDomain: [0, 1000], yB: 1129, yT: 984, yTicks: [0, 200, 400, 600, 800, 1000], fmt: fd, r: 3.3, brackets: kBr, title: "Tumor weight (mg)", tx: 826 });
series2Names.forEach((nm, i) => legendItem(1030, 999 + i * 24, C2[i], nm, 20));

// ---- Row 5 ----
plabel("l", 8, 1260);
boxPanel({ groups: lGroups, series: [lControl, lKD], colors: C2, x0: 57, x1: 278, gF: 88, gL: 263, step: 15, bw: 12,
  yDomain: [0, 3], yB: 1432, yT: 1288, yTicks: [0, 1, 2, 3], fmt: fd, r: 3.2, brackets: lBr, title: "Relative TIC", tx: 33 });
plabel("m", 298, 1260);
boxPanel({ groups: mGroups, series: [mControl, mKD], colors: C2, x0: 343, x1: 629, gF: 362, gL: 607, step: 14, bw: 11,
  yDomain: [0, 5], yB: 1432, yT: 1288, yTicks: [0, 1, 2, 3, 4, 5], fmt: fd, r: 3.2, brackets: mBr, title: "Relative TIC", tx: 317 });
plabel("n", 645, 1259);
boxPanel({ groups: nGroups, series: [nControl, nKD], colors: C2, x0: 699, x1: 985, gF: 718, gL: 964, step: 14.5, bw: 11,
  yDomain: [0, 4], yB: 1432, yT: 1288, yTicks: [0, 1, 2, 3, 4], fmt: fd, r: 3.2, brackets: nBr, title: "Relative TIC", tx: 663 });
series2Names.forEach((nm, i) => legendItem(963, 1290 + i * 24, C2[i], nm, 20));

// ---- Row 6 ----
plabel("o", 8, 1553);
boxPanel({ groups: oGroups, series: [oEVCtrl, oEVKD, oSCDCtrl, oSCDKD], colors: C4, x0: 68, x1: 396, gF: 100, gL: 364, step: 14, bw: 10,
  yDomain: [0.5, 2], yB: 1718, yT: 1574, yTicks: [0.5, 1, 1.5, 2], fmt: f1, r: 3, brackets: oBr, title: "Relative TIC", tx: 26, fs: 17, pfs: 13 });
plabel("p", 425, 1553);
boxPanel({ groups: pGroups, series: [pEVCtrl, pEVKD, pSCDCtrl, pSCDKD], colors: C4, x0: 449, x1: 782, gF: 473, gL: 761, step: 10.5, bw: 8,
  yDomain: [0, 4], yB: 1718, yT: 1574, yTicks: [0, 1, 2, 3, 4], fmt: fd, r: 2.7, brackets: pBr, vLabels: true, title: "Relative TIC", tx: 421, fs: 17, pfs: 13 });
plabel("q", 806, 1553);
boxPanel({ groups: qGroups, series: [qEVCtrl, qEVKD, qSCDCtrl, qSCDKD], colors: C4, x0: 825, x1: 980, gF: 867, gL: 941, step: 15, bw: 10,
  yDomain: [0, 4], yB: 1718, yT: 1574, yTicks: [0, 1, 2, 3, 4], fmt: fd, r: 3, brackets: qBr, vLabels: true, title: "Relative ratio", tx: 802, fs: 17, pfs: 13 });
plabel("r", 983, 1553);
boxPanel({ groups: rGroups, series: [rEVCtrl, rEVKD, rSCDCtrl, rSCDKD], colors: C4, x0: 1050, x1: 1382, gF: 1075, gL: 1359, step: 10.3, bw: 8,
  yDomain: [0, 2], yB: 1718, yT: 1574, yTicks: [0, 0.5, 1, 1.5, 2], fmt: f1, r: 2.7, brackets: rBr, title: "Relative TIC", tx: 1003, fs: 17, pfs: 13 });
legendItem(1081, 1540, C4[0], seriesRNames[0], 19);
legendItem(1081, 1562, C4[1], seriesRNames[1], 19);
legendItem(1240, 1540, C4[2], seriesRNames[2], 19);
legendItem(1240, 1562, C4[3], seriesRNames[3], 19);
</script>
</body></html>
